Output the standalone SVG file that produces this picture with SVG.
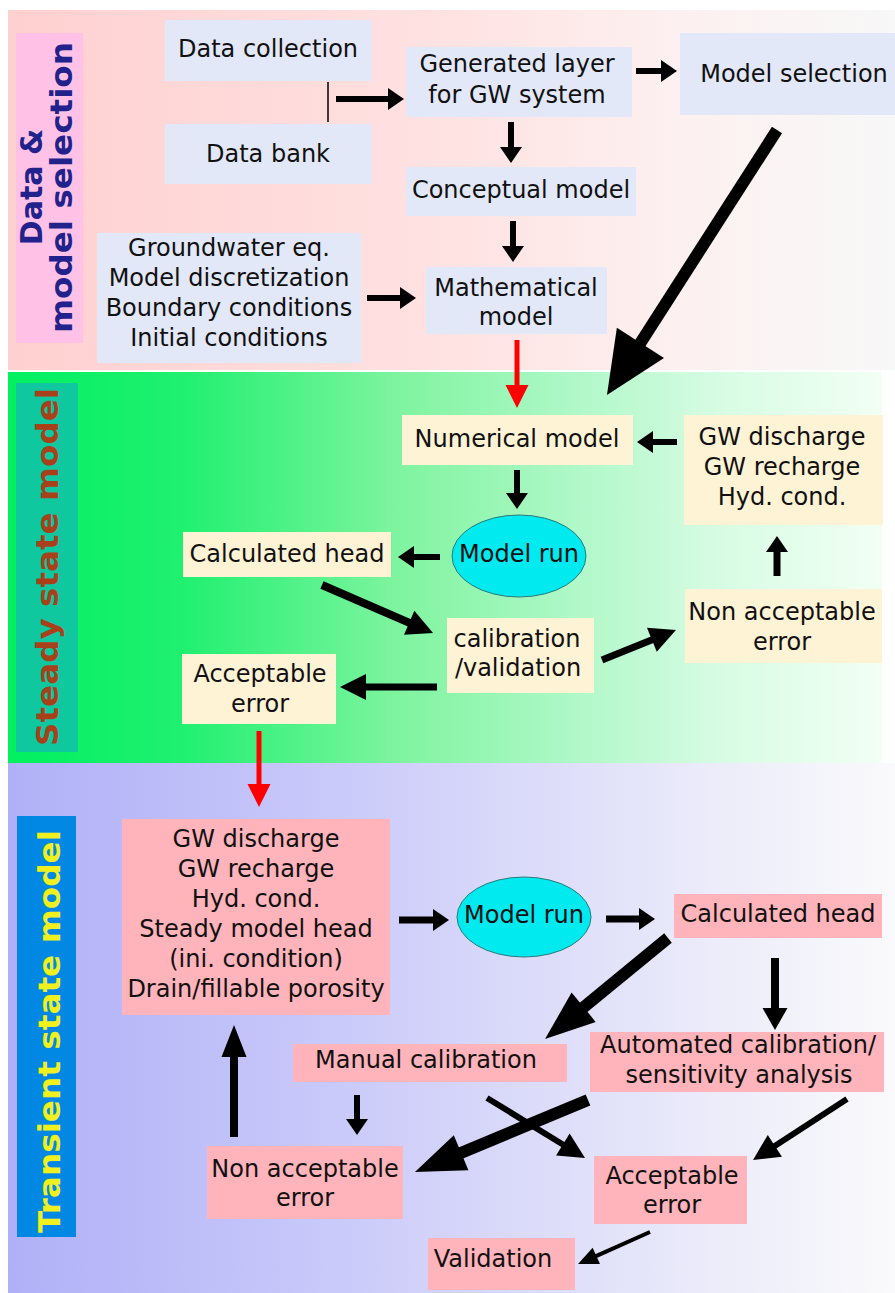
<svg xmlns="http://www.w3.org/2000/svg" width="895" height="1293" viewBox="0 0 895 1293">
<style>
.t{font-family:"DejaVu Sans","Liberation Sans",sans-serif;font-size:24px;fill:#111;text-anchor:middle}
.lab{font-family:"DejaVu Sans","Liberation Sans",sans-serif;font-weight:bold;font-size:30px;text-anchor:middle}
.nb{fill:#e2e8f8}
.nc{fill:#fff3d6}
.np{fill:#ffb3ba}
.el{fill:#00eaf0;stroke:#2a7a7a;stroke-width:1}
.a{fill:none;stroke:#000}
.r{fill:none;stroke:#f00;stroke-width:5}
</style>
<defs>
<linearGradient id="g1" gradientUnits="userSpaceOnUse" x1="8" y1="0" x2="895" y2="0">
<stop offset="0" stop-color="#ffd0d0"/><stop offset="0.5" stop-color="#ffe2e2"/><stop offset="0.75" stop-color="#fdf0f0"/><stop offset="1" stop-color="#f8f8f8"/>
</linearGradient>
<linearGradient id="g2" gradientUnits="userSpaceOnUse" x1="8" y1="0" x2="882" y2="0">
<stop offset="0" stop-color="#00f060"/><stop offset="0.2" stop-color="#20f070"/><stop offset="0.45" stop-color="#80f4a0"/><stop offset="0.65" stop-color="#b0f8c8"/><stop offset="0.82" stop-color="#d8fce4"/><stop offset="1" stop-color="#f2fff4"/>
</linearGradient>
<linearGradient id="g3" gradientUnits="userSpaceOnUse" x1="8" y1="0" x2="895" y2="0">
<stop offset="0" stop-color="#b0b0f8"/><stop offset="0.35" stop-color="#c8c8fa"/><stop offset="0.6" stop-color="#dcdcfa"/><stop offset="0.8" stop-color="#ececfa"/><stop offset="1" stop-color="#fafafc"/>
</linearGradient>
<marker id="ms" markerUnits="userSpaceOnUse" markerWidth="40" markerHeight="40" refX="1" refY="0" orient="auto" overflow="visible"><path d="M0,-11 L16,0 L0,11 z" fill="#000"/></marker>
<marker id="mt" markerUnits="userSpaceOnUse" markerWidth="40" markerHeight="40" refX="1" refY="0" orient="auto" overflow="visible"><path d="M0,-12.5 L22,0 L0,12.5 z" fill="#000"/></marker>
<marker id="mu" markerUnits="userSpaceOnUse" markerWidth="40" markerHeight="40" refX="1" refY="0" orient="auto" overflow="visible"><path d="M0,-12.5 L32,0 L0,12.5 z" fill="#000"/></marker>
<marker id="mm" markerUnits="userSpaceOnUse" markerWidth="40" markerHeight="40" refX="1" refY="0" orient="auto" overflow="visible"><path d="M0,-13 L26,0 L0,13 z" fill="#000"/></marker>
<marker id="mv" markerUnits="userSpaceOnUse" markerWidth="40" markerHeight="40" refX="1" refY="0" orient="auto" overflow="visible"><path d="M0,-9 L20,0 L0,9 z" fill="#000"/></marker>
<marker id="mb" markerUnits="userSpaceOnUse" markerWidth="80" markerHeight="80" refX="1" refY="0" orient="auto" overflow="visible"><path d="M0,-19 L50,0 L0,19 z" fill="#000"/></marker>
<marker id="mx" markerUnits="userSpaceOnUse" markerWidth="80" markerHeight="80" refX="1" refY="0" orient="auto" overflow="visible"><path d="M0,-28 L62,0 L0,28 z" fill="#000"/></marker>
<marker id="mr" markerUnits="userSpaceOnUse" markerWidth="40" markerHeight="40" refX="1" refY="0" orient="auto" overflow="visible"><path d="M0,-11.5 L23,0 L0,11.5 z" fill="#f00"/></marker>
</defs>
<rect x="0" y="0" width="895" height="1293" fill="#fff"/>
<g id="section-data">
<rect x="8" y="10" width="887" height="360" fill="url(#g1)"/>
<rect x="16" y="33" width="67" height="310" fill="#ffc2e6"/>
<text class="lab" fill="#22228c" transform="translate(42,187) rotate(-90)">Data &amp;</text>
<text class="lab" fill="#22228c" transform="translate(72,187.5) rotate(-90)" textLength="291" lengthAdjust="spacingAndGlyphs">model selection</text>
</g>
<g id="section-steady">
<rect x="8" y="372" width="874" height="391" fill="url(#g2)"/>
<rect x="16" y="383" width="62" height="369" fill="#10c8a0"/>
<text class="lab" fill="#a8401a" transform="translate(58,567) rotate(-90)" textLength="358" lengthAdjust="spacingAndGlyphs">Steady state model</text>
</g>
<g id="section-transient">
<rect x="8" y="763" width="887" height="530" fill="url(#g3)"/>
<rect x="17" y="816" width="59" height="421" fill="#0088e4"/>
<text class="lab" fill="#f0f020" transform="translate(60,1031.5) rotate(-90)" textLength="403" lengthAdjust="spacingAndGlyphs">Transient state model</text>
</g>
<g id="n-data-collection"><rect class="nb" x="165" y="20" width="207" height="61"/><text class="t" x="268" y="57">Data collection</text></g>
<g id="n-data-bank"><rect class="nb" x="165" y="124" width="207" height="60"/><text class="t" x="268" y="162">Data bank</text></g>
<g id="n-generated-layer"><rect class="nb" x="406" y="47" width="226" height="70"/><text class="t" x="517" y="72">Generated layer</text><text class="t" x="517" y="103">for GW system</text></g>
<g id="n-model-selection"><rect class="nb" x="680" y="33" width="215" height="82"/><text class="t" x="794" y="82">Model selection</text></g>
<g id="n-conceptual"><rect class="nb" x="406" y="167" width="230" height="49"/><text class="t" x="521" y="198">Conceptual model</text></g>
<g id="n-mathematical"><rect class="nb" x="426" y="267" width="181" height="67"/><text class="t" x="516" y="296">Mathematical</text><text class="t" x="516" y="325">model</text></g>
<g id="n-inputs"><rect class="nb" x="97" y="233" width="264" height="130"/><text class="t" x="229" y="256">Groundwater eq.</text><text class="t" x="229" y="286">Model discretization</text><text class="t" x="229" y="316">Boundary conditions</text><text class="t" x="229" y="346">Initial conditions</text></g>
<g id="n-numerical"><rect class="nc" x="402" y="415" width="231" height="50"/><text class="t" x="517" y="447">Numerical model</text></g>
<g id="n-ss-params"><rect class="nc" x="684" y="415" width="199" height="110"/><text class="t" x="782" y="445">GW discharge</text><text class="t" x="782" y="475">GW recharge</text><text class="t" x="782" y="505">Hyd. cond.</text></g>
<g id="n-ss-run"><ellipse class="el" cx="519" cy="556" rx="67" ry="41"/><text class="t" x="519" y="562">Model run</text></g>
<g id="n-ss-head"><rect class="nc" x="183" y="532" width="208" height="45"/><text class="t" x="287" y="562">Calculated head</text></g>
<g id="n-ss-calib"><rect class="nc" x="447" y="618" width="147" height="75"/><text class="t" x="517" y="647">calibration</text><text class="t" x="518" y="676">/validation</text></g>
<g id="n-ss-nonacc"><rect class="nc" x="685" y="589" width="197" height="74"/><text class="t" x="782" y="620">Non acceptable</text><text class="t" x="782" y="650">error</text></g>
<g id="n-ss-acc"><rect class="nc" x="182" y="654" width="154" height="70"/><text class="t" x="260" y="682">Acceptable</text><text class="t" x="260" y="712">error</text></g>
<g id="n-tr-params"><rect class="np" x="122" y="819" width="268" height="196"/><text class="t" x="256" y="847">GW discharge</text><text class="t" x="256" y="877">GW recharge</text><text class="t" x="256" y="907">Hyd. cond.</text><text class="t" x="256" y="937">Steady model head</text><text class="t" x="256" y="967">(ini. condition)</text><text class="t" x="256" y="997">Drain/fillable porosity</text></g>
<g id="n-tr-run"><ellipse class="el" cx="524" cy="917" rx="67" ry="40"/><text class="t" x="524" y="923">Model run</text></g>
<g id="n-tr-head"><rect class="np" x="674" y="894" width="208" height="44"/><text class="t" x="778" y="922">Calculated head</text></g>
<g id="n-manual"><rect class="np" x="293" y="1044" width="274" height="38"/><text class="t" x="426" y="1068">Manual calibration</text></g>
<g id="n-automated"><rect class="np" x="590" y="1032" width="294" height="60"/><text class="t" x="738" y="1053">Automated calibration/</text><text class="t" x="739" y="1083">sensitivity analysis</text></g>
<g id="n-tr-nonacc"><rect class="np" x="207" y="1146" width="196" height="73"/><text class="t" x="305" y="1177">Non acceptable</text><text class="t" x="305" y="1206">error</text></g>
<g id="n-tr-acc"><rect class="np" x="594" y="1156" width="153" height="68"/><text class="t" x="672" y="1184">Acceptable</text><text class="t" x="672" y="1213">error</text></g>
<g id="n-validation"><rect class="np" x="428" y="1238" width="147" height="52"/><text class="t" x="493" y="1267">Validation</text></g>
<g id="connectors">
<line x1="328" y1="82" x2="328" y2="122" stroke="#000" stroke-width="1.5"/>
<path class="a" stroke-width="6" marker-end="url(#ms)" d="M336,99 L389,99"/>
<path class="a" stroke-width="6" marker-end="url(#ms)" d="M636,71 L662,71"/>
<path class="a" stroke-width="6" marker-end="url(#ms)" d="M511,122 L511,148"/>
<path class="a" stroke-width="6" marker-end="url(#ms)" d="M513,221 L513,247"/>
<path class="a" stroke-width="6" marker-end="url(#ms)" d="M367,298 L401,298"/>
<path class="r" marker-end="url(#mr)" d="M517,340 L517,386"/>
<path class="a" stroke-width="12" marker-end="url(#mx)" d="M777,130 L639.9,343.7"/>
<path class="a" stroke-width="6" marker-end="url(#ms)" d="M677,442 L652,442"/>
<path class="a" stroke-width="6" marker-end="url(#ms)" d="M517,470 L517,494"/>
<path class="a" stroke-width="6" marker-end="url(#ms)" d="M440,557 L413,557"/>
<path class="a" stroke-width="8" marker-end="url(#mm)" d="M322,585 L410.1,623.1"/>
<path class="a" stroke-width="7" marker-end="url(#mm)" d="M602,660 L652.8,639.4"/>
<path class="a" stroke-width="7" marker-end="url(#ms)" d="M777,576 L777,551"/>
<path class="a" stroke-width="7" marker-end="url(#mm)" d="M437,687 L365,687"/>
<path class="r" marker-end="url(#mr)" d="M259,731 L259,785"/>
<path class="a" stroke-width="7" marker-end="url(#ms)" d="M399,920 L434,920"/>
<path class="a" stroke-width="7" marker-end="url(#ms)" d="M606,919 L640,919"/>
<path class="a" stroke-width="12" marker-end="url(#mb)" d="M668,938 L582.9,1007.9"/>
<path class="a" stroke-width="8" marker-end="url(#mt)" d="M775,958 L775,1009"/>
<path class="a" stroke-width="12" marker-end="url(#mb)" d="M588,1100 L460.2,1153.2"/>
<path class="a" stroke-width="6" marker-end="url(#mm)" d="M487,1098 L563.7,1145"/>
<path class="a" stroke-width="6" marker-end="url(#mm)" d="M847,1099 L774,1146.4"/>
<path class="a" stroke-width="6" marker-end="url(#ms)" d="M357,1095 L357,1120"/>
<path class="a" stroke-width="8" marker-end="url(#mu)" d="M234,1137 L234,1056"/>
<path class="a" stroke-width="4" marker-end="url(#mv)" d="M650,1232 L595.4,1256.3"/>
</g>
</svg>
